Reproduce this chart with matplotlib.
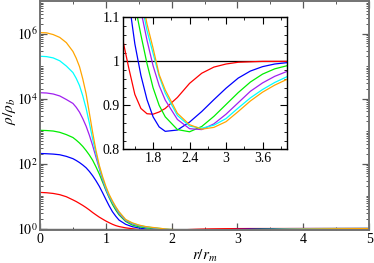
import numpy as np
import matplotlib
matplotlib.use("Agg")
import matplotlib.pyplot as plt
from matplotlib.ticker import FixedLocator, MultipleLocator, LogLocator, NullFormatter, FormatStrFormatter

plt.rcParams['font.family'] = 'Liberation Serif'
plt.rcParams['mathtext.fontset'] = 'stix'

# radial positions r/r_m
r = [0, 0.1, 0.2, 0.3, 0.4, 0.5, 0.55, 0.6, 0.65, 0.7, 0.75, 0.8, 0.85, 0.9, 0.95,
     1.0, 1.05, 1.1, 1.15, 1.2,
     1.3, 1.4, 1.5, 1.6, 1.7, 1.8, 1.9, 2.0, 2.2, 2.4, 2.6, 2.8, 3.0,
     3.2, 3.4, 3.6, 3.8, 4.0, 4.5, 5.0]

# density profiles rho/rho_b
rho_red = [12.9, 12.6, 12.0, 11.0, 9.5, 7.6, 6.76, 5.9, 5.13, 4.4, 3.72, 3.1, 2.63, 2.24, 1.95,
           1.70, 1.51, 1.35, 1.23, 1.15,
           1.05, 0.985, 0.925, 0.893, 0.881, 0.880, 0.885, 0.893, 0.918, 0.950, 0.973, 0.987, 0.994,
           0.998, 0.999, 1.0, 1.0, 1.0, 1.0, 1.0]
rho_blue = [204, 200, 195, 186, 166, 141, 124, 107, 90, 74, 57, 42, 29.5, 20, 12.7,
            7.9, 5.0, 3.3, 2.4, 1.82,
            1.35, 1.14, 1.04, 0.968, 0.913, 0.874, 0.851, 0.841, 0.844, 0.862, 0.886, 0.913, 0.939,
            0.962, 0.978, 0.988, 0.994, 0.997, 0.999, 1.0]
rho_green = [1050, 1035, 1000, 912, 776, 631, 525, 427, 335, 251, 182, 126, 79, 48, 27,
             15.1, 8.9, 5.5, 3.7, 2.63,
             1.65, 1.28, 1.13, 1.06, 0.995, 0.94, 0.90, 0.874, 0.845, 0.840, 0.852, 0.875, 0.902,
             0.929, 0.953, 0.971, 0.983, 0.990, 0.998, 1.0]
rho_purple = [15100, 14800, 13800, 12000, 9330, 7080, 5370, 3800, 2400, 1410, 741, 355, 158, 71, 32,
              15.8, 9.5, 6.3, 4.2, 2.9,
              1.75, 1.40, 1.22, 1.115, 1.048, 0.99, 0.945, 0.912, 0.868, 0.847, 0.845, 0.858, 0.880,
              0.906, 0.932, 0.951, 0.966, 0.977, 0.993, 0.999]
rho_cyan = [2.0e5, 1.95e5, 1.78e5, 1.45e5, 1.0e5, 6.3e4, 4.17e4, 2.5e4, 1.2e4, 5010, 1740, 562, 200, 79, 35.5,
            17.4, 10.2, 6.6, 4.5, 3.16,
            1.85, 1.46, 1.26, 1.14, 1.07, 1.018, 0.966, 0.928, 0.877, 0.853, 0.848, 0.855, 0.870,
            0.894, 0.917, 0.936, 0.952, 0.965, 0.987, 0.997]
rho_orange = [1.07e6, 1.05e6, 9.3e5, 7.6e5, 5.25e5, 2.82e5, 1.74e5, 9.55e4, 3.98e4, 1.41e4, 3550, 891, 251, 89, 39.8,
              20, 11.2, 7.1, 4.7, 3.3,
              1.90, 1.50, 1.28, 1.155, 1.085, 1.03, 0.97, 0.935, 0.882, 0.856, 0.846, 0.850, 0.863,
              0.886, 0.910, 0.930, 0.946, 0.959, 0.983, 0.995]

series = [rho_red, rho_blue, rho_green, rho_purple, rho_cyan, rho_orange]
colors = ['#ff0000', '#0000ff', '#00ee00', '#a020f0', '#00ffff', '#ffa500']

fig = plt.figure(figsize=(3.74, 2.63), dpi=100)
ax = fig.add_axes([0.107, 0.1255, 0.88, 0.8705])

ax.axhline(1.0, color='k', lw=0.9)
for y, c in zip(series, colors):
    ax.plot(r, y, color=c, lw=0.9)

ax.set_yscale('log')
ax.set_xlim(0, 5)
ax.set_ylim(0.9, 1e7)
ax.xaxis.set_major_locator(MultipleLocator(1))
ax.xaxis.set_minor_locator(MultipleLocator(0.5))
ax.yaxis.set_major_locator(FixedLocator([1, 1e2, 1e4, 1e6]))
ax.yaxis.set_minor_locator(LogLocator(base=10, subs=np.arange(1, 10), numticks=20))
ax.yaxis.set_minor_formatter(NullFormatter())
ax.set_yticklabels(['$10^0$', '$10^2$', '$10^4$', '$10^6$'])
ax.tick_params(which='both', direction='in', top=True, right=True, labelsize=10,
               color='0.35', pad=2)
ax.tick_params(which='major', length=5, width=0.9)
ax.tick_params(which='minor', length=2.5, width=0.7)
for s in ax.spines.values():
    s.set_color('0.45')
    s.set_linewidth(1.4)
ax.set_xlabel('$r/r_m$', fontsize=11)
ax.set_ylabel(r'$\rho/\rho_b$', fontsize=11)
ax.xaxis.set_label_coords(0.5, -0.08)
ax.yaxis.set_label_coords(-0.066, 0.52)

# inset
ins = fig.add_axes([0.328, 0.432, 0.439, 0.502])
ins.axhline(1.0, color='k', lw=0.9)
for y, c in zip(series, colors):
    ins.plot(r, y, color=c, lw=0.9)
ins.set_xlim(1.3, 4.0)
ins.set_ylim(0.8, 1.1)
ins.xaxis.set_major_locator(FixedLocator([1.8, 2.4, 3.0, 3.6]))
ins.xaxis.set_minor_locator(FixedLocator([1.5, 2.1, 2.7, 3.3, 3.9]))
ins.yaxis.set_major_locator(MultipleLocator(0.1))
ins.yaxis.set_minor_locator(MultipleLocator(0.02))
ins.xaxis.set_major_formatter(FormatStrFormatter('%g'))
ins.yaxis.set_major_formatter(FormatStrFormatter('%g'))
ins.tick_params(which='both', direction='in', top=True, right=True, labelsize=10, pad=2)
ins.tick_params(which='major', length=5, width=0.8)
ins.tick_params(which='minor', length=2.5, width=0.6)
for s in ins.spines.values():
    s.set_linewidth(1.0)

fig.savefig('out.png', dpi=100)
